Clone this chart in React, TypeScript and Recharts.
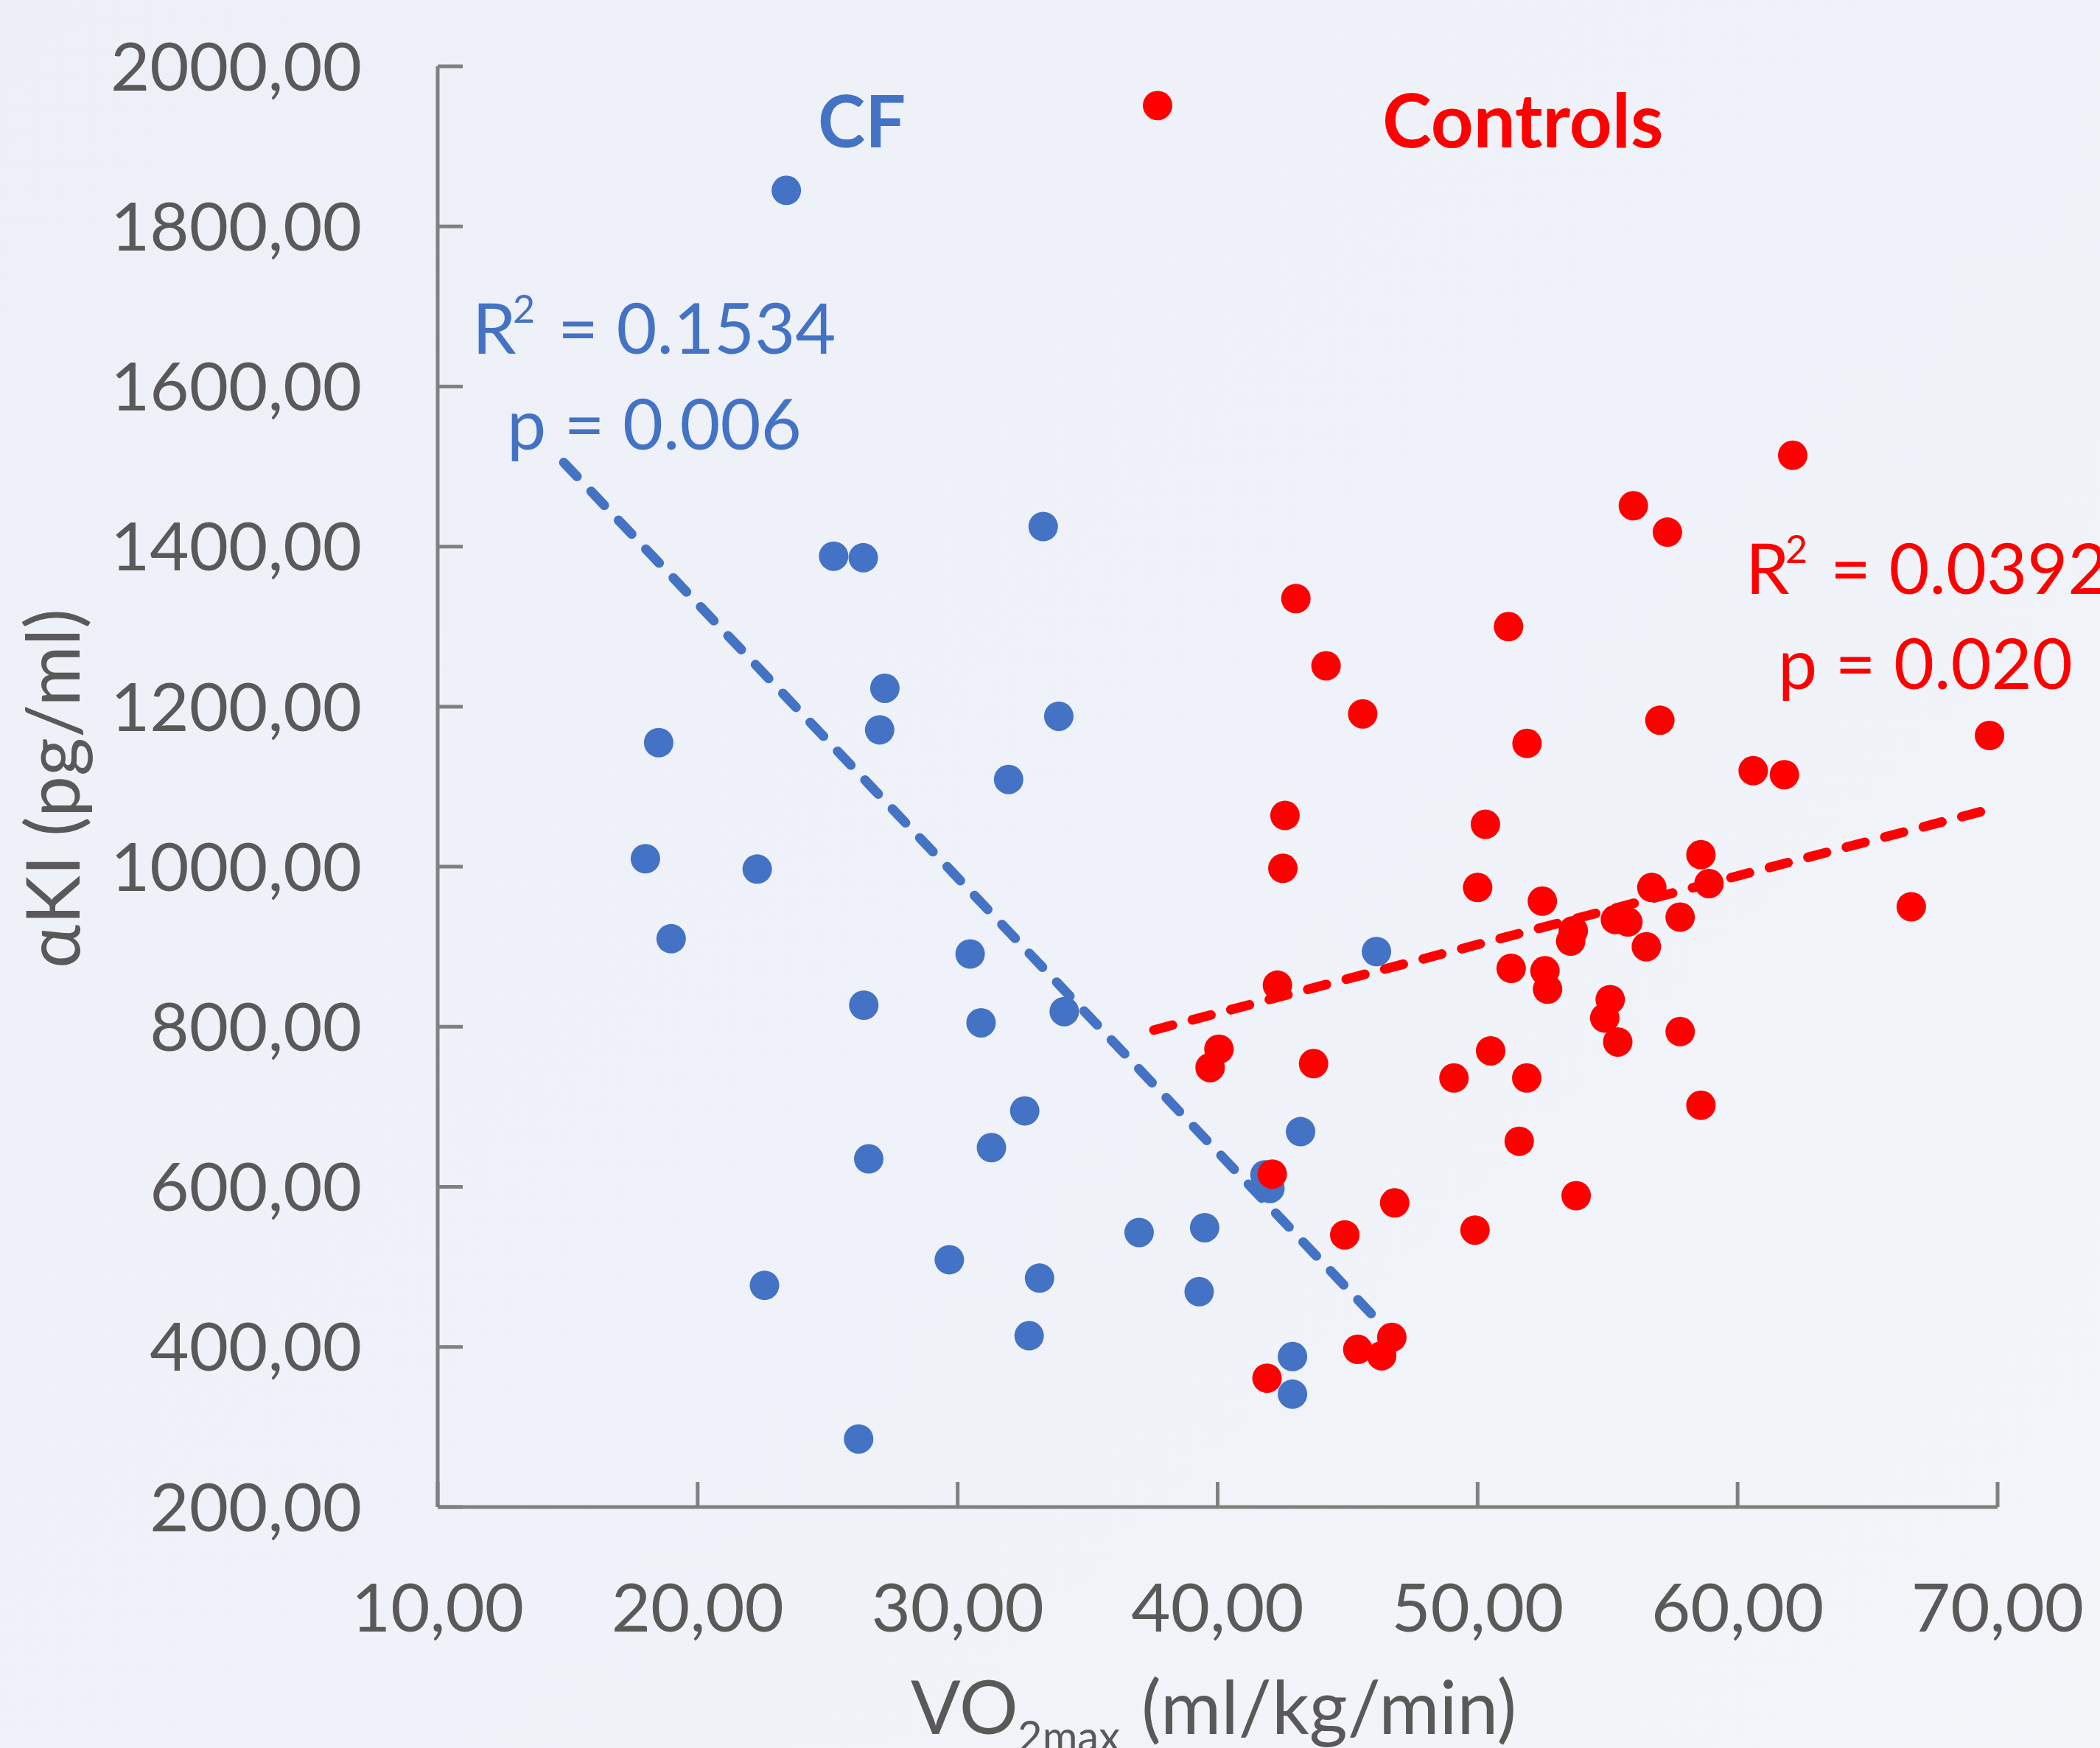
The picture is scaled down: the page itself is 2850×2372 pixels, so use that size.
import { ScatterChart, Scatter, XAxis, YAxis, ReferenceLine } from 'recharts';

// VO2max (ml/kg/min) and alpha-Klotho (pg/ml)
const cfVo2 = [23.41, 25.23, 26.37, 33.29, 27.2, 27.0, 33.89, 18.5, 31.96, 17.99, 22.29, 18.98, 30.48, 26.39, 30.9, 34.1, 46.11, 32.58, 31.3, 26.58, 43.19, 41.82, 42.01, 36.98, 39.5, 29.68, 33.15, 22.57, 39.29, 32.75, 42.88, 42.88, 26.19];
const cfAki = [1845, 1388, 1386, 1425, 1223, 1171, 1188, 1155, 1109, 1010, 997, 910, 891, 827, 805, 819, 894, 695, 649, 635, 669, 615, 598, 543, 549, 509, 486, 477, 469, 414, 388, 341, 285];

const ctrlVo2 = [37.69, 62.12, 55.99, 57.3, 43.01, 51.19, 44.17, 45.58, 57.01, 51.9, 69.69, 60.6, 61.8, 42.59, 50.3, 42.51, 58.59, 50.0, 58.9, 56.7, 52.49, 66.68, 57.79, 55.3, 55.78, 53.68, 53.58, 56.49, 51.29, 52.59, 42.3, 52.69, 55.1, 54.89, 55.39, 57.79, 40.05, 39.71, 43.69, 50.5, 49.09, 51.89, 58.59, 51.6, 42.1, 46.81, 53.79, 44.89, 49.9, 45.39, 46.31, 46.7, 41.9];
const ctrlAki = [1951, 1514, 1451, 1418, 1335, 1300, 1251, 1191, 1183, 1154, 1164, 1120, 1115, 1064, 1053, 998, 1015, 974, 979, 974, 957, 950, 937, 934, 931, 920, 907, 900, 873, 870, 852, 847, 834, 811, 781, 794, 772, 749, 754, 770, 736, 736, 702, 657, 616, 580, 589, 540, 546, 397, 389, 412, 361];

// trend line end points
const cfTrend = [{ x: 14.85, y: 1505 }, { x: 45.95, y: 440 }];
const ctrlTrend = [{ x: 37.55, y: 796 }, { x: 69.5, y: 1070 }];

const xTicks = [10, 20, 30, 40, 50, 60, 70];
const yTicks = [200, 400, 600, 800, 1000, 1200, 1400, 1600, 1800, 2000];

const cfData = cfVo2.map((x, i) => ({ x, y: cfAki[i] }));
const ctrlData = ctrlVo2.map((x, i) => ({ x, y: ctrlAki[i] }));

const BLUE = '#4472C4';
const RED = '#FF0000';
const GREY_TEXT = '#595959';
const FONT = 'Lato, "Open Sans", sans-serif';

const fmt = (v: number) => v.toFixed(2).replace('.', ',');

const dot = (color: string) => (props: any) => (
  <circle cx={props.cx} cy={props.cy} r={20} fill={color} />
);

export default function App() {
  return (
    <div
      style={{
        position: 'absolute',
        left: 0,
        top: 0,
        width: 2850,
        height: 2372,
        overflow: 'hidden',
        background: 'linear-gradient(135deg, #EDF1F7 0%, #EFF2F8 55%, #F3F5F9 100%)',
        fontFamily: FONT,
      }}
    >
      <ScatterChart width={2850} height={2372} margin={{ top: 90, right: 139, bottom: 227, left: 494 }}>
        <XAxis
          type="number"
          dataKey="x"
          domain={[10, 70]}
          ticks={xTicks}
          tickFormatter={fmt}
          height={100}
          tickSize={-34}
          tickMargin={138}
          axisLine={{ stroke: '#808080', strokeWidth: 5 }}
          tickLine={{ stroke: '#808080', strokeWidth: 5 }}
          tick={{ fill: GREY_TEXT, fontSize: 92, fontFamily: FONT }}
        />
        <YAxis
          type="number"
          dataKey="y"
          domain={[200, 2000]}
          ticks={yTicks}
          tickFormatter={fmt}
          width={100}
          tickSize={-34}
          tickMargin={137}
          axisLine={{ stroke: '#808080', strokeWidth: 5 }}
          tickLine={{ stroke: '#808080', strokeWidth: 5 }}
          tick={{ fill: GREY_TEXT, fontSize: 92, fontFamily: FONT }}
        />
        <Scatter name="CF" data={cfData} fill={BLUE} shape={dot(BLUE)} isAnimationActive={false} />
        <Scatter name="Controls" data={ctrlData} fill={RED} shape={dot(RED)} isAnimationActive={false} />
        <ReferenceLine
          segment={cfTrend}
          stroke={BLUE}
          strokeWidth={13}
          strokeDasharray="26 28"
          strokeLinecap="round"
        />
        <ReferenceLine
          segment={ctrlTrend}
          stroke={RED}
          strokeWidth={13}
          strokeDasharray="26 28"
          strokeLinecap="round"
        />
      </ScatterChart>

      <svg
        width={2850}
        height={2372}
        style={{ position: 'absolute', left: 0, top: 0, pointerEvents: 'none' }}
        fontFamily={FONT}
      >
        <text transform="translate(108,1070) rotate(-90)" textAnchor="middle" fontSize={100} fill={GREY_TEXT}>
          αKI (pg/ml)
        </text>
        <text x={1236} y={2353} fontSize={100} fill={GREY_TEXT}>
          <tspan>VO</tspan>
          <tspan x={1381} dy={24} fontSize={58}>2max</tspan>
          <tspan x={1549} dy={-24}>(ml/kg/min)</tspan>
        </text>

        <text x={1110} y={200} fontSize={97} fontWeight="bold" fill={BLUE}>CF</text>
        <text x={1876} y={200} fontSize={101} fontWeight="bold" fill={RED}>Controls</text>

        <text x={641} y={480} fontSize={95} fill={BLUE}>
          <tspan>R</tspan>
          <tspan x={696} dy={-42} fontSize={52}>2</tspan>
          <tspan x={757} dy={42}>= 0.1534</tspan>
        </text>
        <text x={688} y={610} fontSize={95} fill={BLUE}>p = 0.006</text>

        <text x={2369} y={806} fontSize={95} fill={RED}>
          <tspan>R</tspan>
          <tspan x={2423} dy={-42} fontSize={52}>2</tspan>
          <tspan x={2484} dy={42}>= 0.0392</tspan>
        </text>
        <text x={2413} y={935} fontSize={95} fill={RED}>p = 0.020</text>
      </svg>
    </div>
  );
}
